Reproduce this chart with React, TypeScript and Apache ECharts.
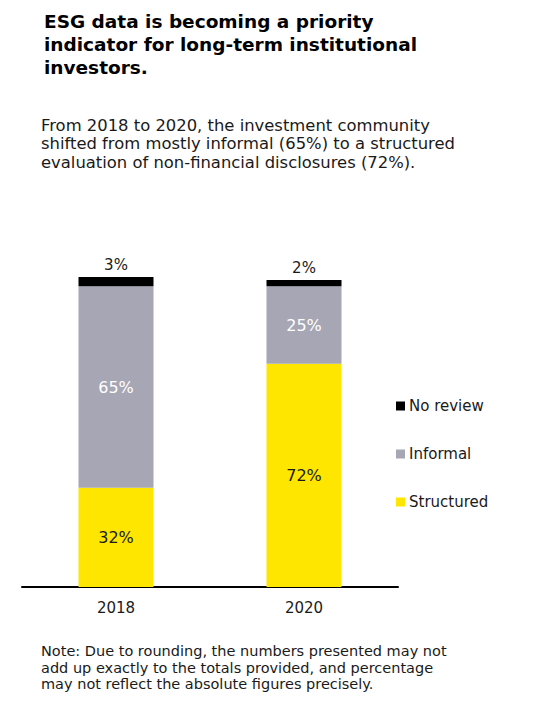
import React, { useEffect, useRef } from "react";
import * as echarts from "echarts";

const years = ["2018", "2020"];
const structured = [32, 72];
const informal = [65, 25];
const noReview = [3, 2];
const legendOrder = ["No review", "Informal", "Structured"];

const titleLines = [
  "ESG data is becoming a priority",
  "indicator for long-term institutional",
  "investors.",
];
const subtitleLines = [
  "From 2018 to 2020, the investment community",
  "shifted from mostly informal (65%) to a structured",
  "evaluation of non-financial disclosures (72%).",
];
const noteLines = [
  "Note: Due to rounding, the numbers presented may not",
  "add up exactly to the totals provided, and percentage",
  "may not reflect the absolute figures precisely.",
];

const FONT = "DejaVu Sans";
const YELLOW = "#ffe600";
const GREY = "#a7a6b5";
const BLACK = "#000000";

export default function App() {
  const ref = useRef<HTMLDivElement>(null);
  useEffect(() => {
    if (!ref.current) return;
    const chart = echarts.init(ref.current, null, { renderer: "svg" });
    const pct = (p: any) => p.value + "%";
    chart.setOption({
      animation: false,
      textStyle: { fontFamily: FONT },
      grid: { left: 22, width: 376, top: 277, bottom: 117, containLabel: false },
      xAxis: {
        type: "category",
        data: years,
        axisTick: { show: false },
        axisLine: { lineStyle: { color: "#000", width: 2 } },
        axisLabel: { color: "#1a1a1a", fontSize: 15, margin: 13, fontFamily: FONT },
      },
      yAxis: { type: "value", min: 0, max: 100, show: false },
      legend: {
        orient: "vertical",
        left: 391,
        top: 392,
        data: legendOrder,
        icon: "rect",
        itemWidth: 9,
        itemHeight: 9,
        itemGap: 30,
        textStyle: { fontSize: 15, color: "#1a1a1a", fontFamily: FONT, lineHeight: 18, padding: [0, 0, 0, -1] },
      },
      graphic: [
        {
          type: "text",
          left: 44,
          top: 10,
          style: {
            text: titleLines.join("\n"),
            font: `bold 18.5px ${FONT}`,
            lineHeight: 23,
            fill: "#000",
          },
        },
        {
          type: "text",
          left: 41,
          top: 116,
          style: {
            text: subtitleLines.join("\n"),
            font: `16.4px ${FONT}`,
            lineHeight: 18.5,
            fill: "#1a1a1a",
          },
        },
        {
          type: "text",
          left: 41,
          top: 643,
          style: {
            text: noteLines.join("\n"),
            font: `14.5px ${FONT}`,
            lineHeight: 16.5,
            fill: "#1a1a1a",
          },
        },
      ],
      series: [
        {
          name: "Structured",
          type: "bar",
          stack: "s",
          barWidth: 75,
          data: structured,
          itemStyle: { color: YELLOW },
          label: { show: true, position: "inside", formatter: pct, color: "#1a1a1a", fontSize: 16, fontFamily: FONT },
        },
        {
          name: "Informal",
          type: "bar",
          stack: "s",
          barWidth: 75,
          data: informal,
          itemStyle: { color: GREY },
          label: { show: true, position: "inside", formatter: pct, color: "#ffffff", fontSize: 16, fontFamily: FONT },
        },
        {
          name: "No review",
          type: "bar",
          stack: "s",
          barWidth: 75,
          data: noReview,
          itemStyle: { color: BLACK },
          label: { show: true, position: "top", distance: 5, formatter: pct, color: "#1a1a1a", fontSize: 15, fontFamily: FONT },
        },
      ],
    });
    return () => chart.dispose();
  }, []);
  return (
    <div
      ref={ref}
      style={{ position: "fixed", left: 0, top: 0, width: 545, height: 704, background: "#fff" }}
    />
  );
}
